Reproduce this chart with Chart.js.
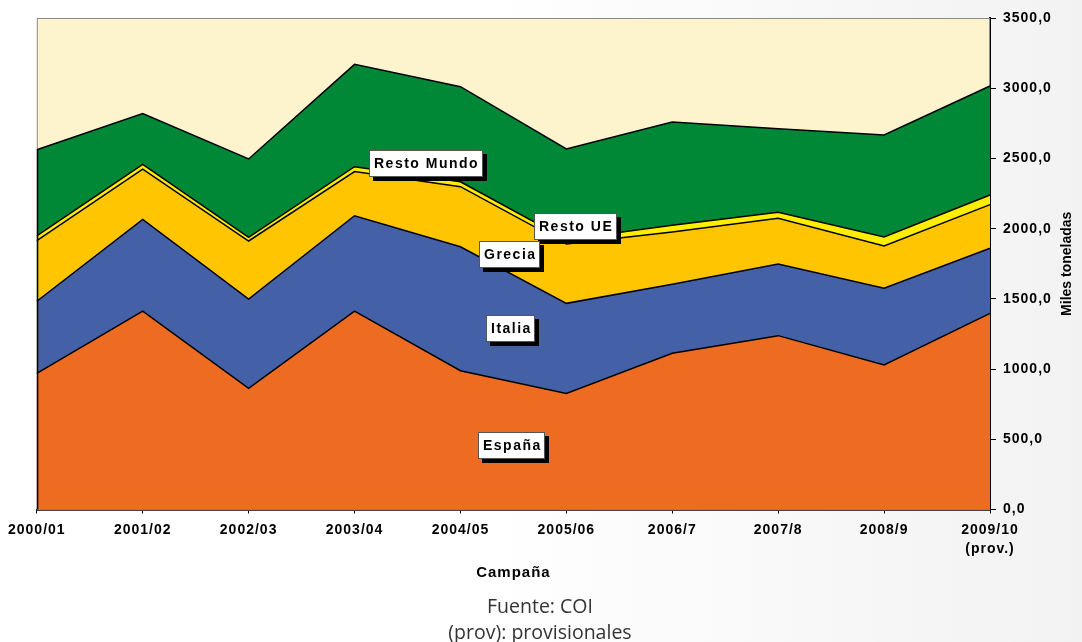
<!DOCTYPE html>
<html>
<head>
<meta charset="utf-8">
<script src="https://cdn.jsdelivr.net/npm/chart.js@4/dist/chart.umd.min.js"></script>
<style>
  html, body { margin: 0; padding: 0; }
  body {
    width: 1082px; height: 642px; overflow: hidden; position: relative;
    background: linear-gradient(to right, #ffffff 0%, #ffffff 45%, #f2f2f2 100%);
  }
  #wrap { position: absolute; left: 0; top: 0; width: 1082px; height: 642px; }
  .note {
    position: absolute; left: 340px; width: 400px; text-align: center;
    font-family: "Open Sans", "Noto Sans", sans-serif; font-size: 19.5px; color: #333;
    line-height: 24px; white-space: nowrap;
  }
</style>
</head>
<body>
<div id="wrap"><canvas id="c" width="1082" height="642"></canvas></div>
<div class="note" style="top:594px;">Fuente: COI</div>
<div class="note" style="top:620px;">(prov): provisionales</div>
<script>
// ---- data ----
const categories = ['2000/01', '2001/02', '2002/03', '2003/04', '2004/05', '2005/06', '2006/7', '2007/8', '2008/9', ['2009/10', '(prov.)']];
const espana     = [970, 1413, 863, 1413, 988, 827, 1112, 1238, 1029, 1397];
const italia     = [513, 653, 636, 679, 883, 641, 492, 510, 546, 463];
const grecia     = [432, 357, 413, 314, 428, 422, 372, 326, 301, 311];
const restoUE    = [33, 35, 26, 35, 35, 33, 48, 42, 64, 69];
const restoMundo = [614, 361, 558, 729, 677, 644, 735, 596, 727, 776];
const yTickValues = [0, 500, 1000, 1500, 2000, 2500, 3000, 3500];
const seriesNames = ['España', 'Italia', 'Grecia', 'Resto UE', 'Resto Mundo'];

const FONT = '"Liberation Sans", Arial, sans-serif';

const spacingPlugin = {
  id: 'spacing',
  beforeUpdate(chart) { chart.ctx.letterSpacing = '1px'; },
  beforeLayout(chart) { chart.ctx.letterSpacing = '1px'; },
  beforeDraw(chart) { chart.ctx.letterSpacing = '1px'; }
};

const plotBgPlugin = {
  id: 'plotBg',
  beforeDatasetsDraw(chart) {
    const { ctx, chartArea: a } = chart;
    ctx.save();
    ctx.fillStyle = '#FDF3CC';
    ctx.fillRect(a.left, a.top, a.right - a.left, a.bottom - a.top);
    ctx.strokeStyle = '#8a8a8a';
    ctx.lineWidth = 1;
    ctx.strokeRect(a.left + 0.5, a.top + 0.5, a.right - a.left - 1, a.bottom - a.top);
    ctx.restore();
  },
  afterDatasetsDraw(chart) {
    // black left edge of the stacked areas
    const { ctx, chartArea: a, scales } = chart;
    const total0 = espana[0] + italia[0] + grecia[0] + restoUE[0] + restoMundo[0];
    ctx.save();
    ctx.strokeStyle = '#000';
    ctx.lineWidth = 1.5;
    ctx.beginPath();
    ctx.moveTo(a.left + 0.75, scales.y.getPixelForValue(0));
    ctx.lineTo(a.left + 0.75, scales.y.getPixelForValue(total0));
    ctx.stroke();
    ctx.restore();
  }
};

const boxLabelPlugin = {
  id: 'boxLabels',
  afterDatasetsDraw(chart, args, opts) {
    const { ctx, scales } = chart;
    ctx.save();
    ctx.font = 'bold 14px ' + FONT;
    ctx.letterSpacing = '1.5px';
    ctx.textBaseline = 'middle';
    ctx.textAlign = 'left';
    opts.items.forEach(it => {
      const cx = scales.x.getPixelForValue(it.at[0]);
      const cy = scales.y.getPixelForValue(it.at[1]);
      const tw = ctx.measureText(it.text).width - 1.5;
      const w = Math.round(tw + 10), h = 27;
      const x = Math.round(cx - w / 2), y = Math.round(cy - h / 2);
      ctx.fillStyle = '#000';
      ctx.fillRect(x + 4, y + 4, w, h);
      ctx.fillStyle = '#fff';
      ctx.fillRect(x, y, w, h);
      ctx.strokeStyle = '#555';
      ctx.lineWidth = 1;
      ctx.strokeRect(x + 0.5, y + 0.5, w - 1, h - 1);
      ctx.fillStyle = '#000';
      ctx.fillText(it.text, x + 5, y + h / 2 + 1);
    });
    ctx.restore();
  }
};

const yTitlePlugin = {
  id: 'yTitle',
  afterDraw(chart) {
    const { ctx, chartArea: a } = chart;
    ctx.save();
    ctx.letterSpacing = '0px';
    ctx.translate(1067, (a.top + a.bottom) / 2);
    ctx.rotate(-Math.PI / 2);
    ctx.font = 'bold 14px ' + FONT;
    ctx.fillStyle = '#000';
    ctx.textAlign = 'center';
    ctx.textBaseline = 'middle';
    ctx.fillText('Miles toneladas', 0, 0);
    ctx.restore();
  }
};

const colors = ['#EE6C22', '#4461A8', '#FFC500', '#FFEE00', '#008837'];
const values = [espana, italia, grecia, restoUE, restoMundo];

const datasets = values.map((d, i) => ({
  label: seriesNames[i],
  data: d,
  backgroundColor: colors[i],
  borderColor: '#000',
  borderWidth: 1.5,
  fill: i === 0 ? 'origin' : '-1',
  pointRadius: 0,
  pointHoverRadius: 0,
  tension: 0
}));

const tickFont = { family: FONT, size: 14, weight: 'bold', lineHeight: 1.3 };

new Chart(document.getElementById('c'), {
  type: 'line',
  data: { labels: categories, datasets },
  options: {
    responsive: false,
    animation: false,
    devicePixelRatio: 1,
    layout: { padding: { left: 36, right: 0, top: 18, bottom: 60.5 } },
    plugins: {
      legend: { display: false },
      tooltip: { enabled: false },
      boxLabels: {
        items: [
          { text: 'Resto Mundo', at: [3.675, 2465] },
          { text: 'Resto UE', at: [5.09, 2014] },
          { text: 'Grecia', at: [4.467, 1819] },
          { text: 'Italia', at: [4.475, 1292] },
          { text: 'España', at: [4.478, 454] }
        ]
      }
    },
    scales: {
      x: {
        type: 'category',
        offset: false,
        grid: { display: true, drawOnChartArea: false, drawTicks: true, tickLength: 4, tickColor: '#000', tickWidth: 1 },
        border: { display: true, color: '#000', width: 2 },
        ticks: { font: tickFont, color: '#000', padding: 8, maxRotation: 0, autoSkip: false },
        title: { display: true, text: 'Campaña', color: '#000', padding: 0,
                 font: { family: FONT, size: 15, weight: 'bold', lineHeight: 1.2 } },
        afterFit(scale) { scale.height = 72; }
      },
      y: {
        position: 'right',
        stacked: true,
        min: 0,
        max: 3500,
        afterBuildTicks(scale) { scale.ticks = yTickValues.map(v => ({ value: v })); },
        ticks: {
          font: { family: FONT, size: 14, weight: 'bold' },
          color: '#000',
          padding: 7,
          callback: v => v.toFixed(1).replace('.', ',')
        },
        grid: { display: true, drawOnChartArea: false, drawTicks: true, tickLength: 6, tickColor: '#000' },
        border: { display: true, color: '#000', width: 2 },
        afterFit(scale) { scale.width = 92; }
      }
    }
  },
  plugins: [spacingPlugin, plotBgPlugin, boxLabelPlugin, yTitlePlugin]
});
</script>
</body>
</html>
